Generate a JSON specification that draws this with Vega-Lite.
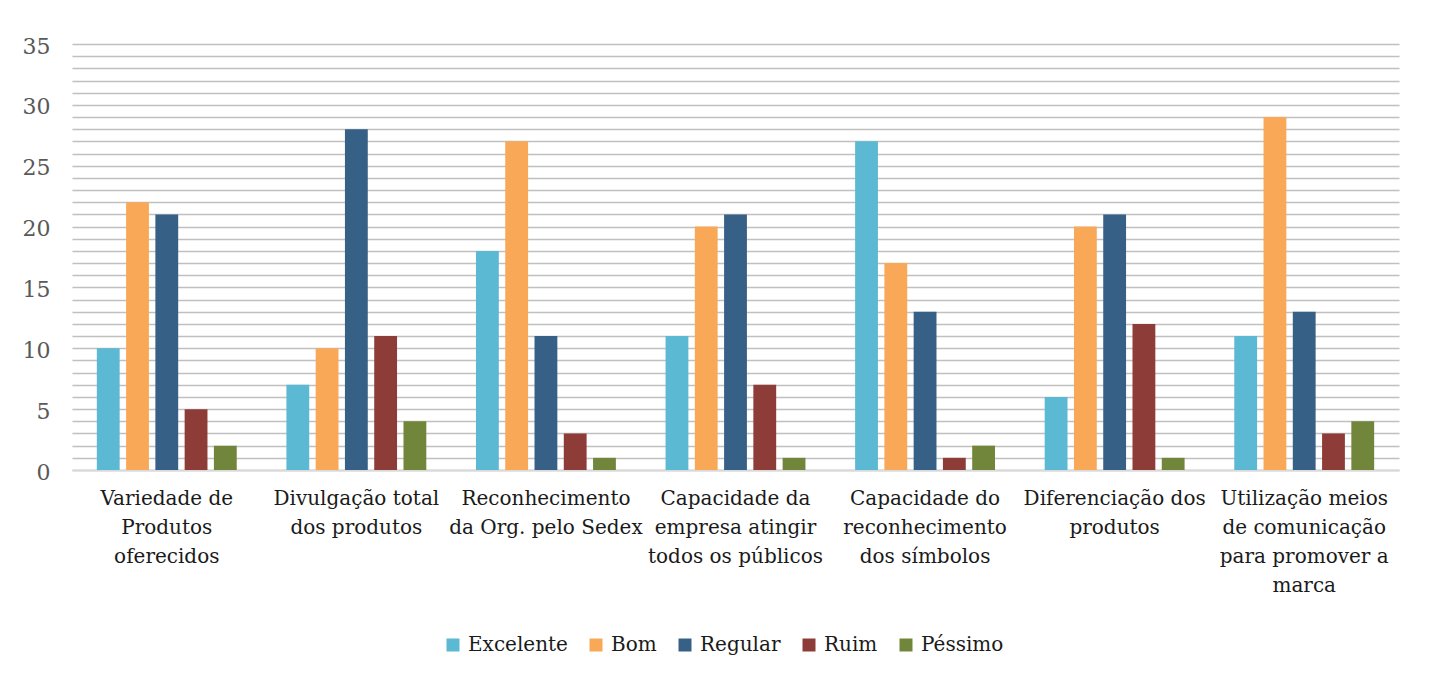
{
  "$schema": "https://vega.github.io/schema/vega-lite/v6.json",
  "width": 1327,
  "height": 426,
  "autosize": "none",
  "padding": {"left": 72, "top": 44, "right": 35, "bottom": 214},
  "background": "#ffffff",
  "config": {
    "view": {"stroke": null},
    "font": "DejaVu Serif"
  },
  "data": {
    "values": [
      {"item": "Variedade de Produtos oferecidos", "rating": "Excelente", "count": 10},
      {"item": "Variedade de Produtos oferecidos", "rating": "Bom", "count": 22},
      {"item": "Variedade de Produtos oferecidos", "rating": "Regular", "count": 21},
      {"item": "Variedade de Produtos oferecidos", "rating": "Ruim", "count": 5},
      {"item": "Variedade de Produtos oferecidos", "rating": "Péssimo", "count": 2},
      {"item": "Divulgação total dos produtos", "rating": "Excelente", "count": 7},
      {"item": "Divulgação total dos produtos", "rating": "Bom", "count": 10},
      {"item": "Divulgação total dos produtos", "rating": "Regular", "count": 28},
      {"item": "Divulgação total dos produtos", "rating": "Ruim", "count": 11},
      {"item": "Divulgação total dos produtos", "rating": "Péssimo", "count": 4},
      {"item": "Reconhecimento da Org. pelo Sedex", "rating": "Excelente", "count": 18},
      {"item": "Reconhecimento da Org. pelo Sedex", "rating": "Bom", "count": 27},
      {"item": "Reconhecimento da Org. pelo Sedex", "rating": "Regular", "count": 11},
      {"item": "Reconhecimento da Org. pelo Sedex", "rating": "Ruim", "count": 3},
      {"item": "Reconhecimento da Org. pelo Sedex", "rating": "Péssimo", "count": 1},
      {"item": "Capacidade da empresa atingir todos os públicos", "rating": "Excelente", "count": 11},
      {"item": "Capacidade da empresa atingir todos os públicos", "rating": "Bom", "count": 20},
      {"item": "Capacidade da empresa atingir todos os públicos", "rating": "Regular", "count": 21},
      {"item": "Capacidade da empresa atingir todos os públicos", "rating": "Ruim", "count": 7},
      {"item": "Capacidade da empresa atingir todos os públicos", "rating": "Péssimo", "count": 1},
      {"item": "Capacidade do reconhecimento dos símbolos", "rating": "Excelente", "count": 27},
      {"item": "Capacidade do reconhecimento dos símbolos", "rating": "Bom", "count": 17},
      {"item": "Capacidade do reconhecimento dos símbolos", "rating": "Regular", "count": 13},
      {"item": "Capacidade do reconhecimento dos símbolos", "rating": "Ruim", "count": 1},
      {"item": "Capacidade do reconhecimento dos símbolos", "rating": "Péssimo", "count": 2},
      {"item": "Diferenciação dos produtos", "rating": "Excelente", "count": 6},
      {"item": "Diferenciação dos produtos", "rating": "Bom", "count": 20},
      {"item": "Diferenciação dos produtos", "rating": "Regular", "count": 21},
      {"item": "Diferenciação dos produtos", "rating": "Ruim", "count": 12},
      {"item": "Diferenciação dos produtos", "rating": "Péssimo", "count": 1},
      {"item": "Utilização meios de comunicação para promover a marca", "rating": "Excelente", "count": 11},
      {"item": "Utilização meios de comunicação para promover a marca", "rating": "Bom", "count": 29},
      {"item": "Utilização meios de comunicação para promover a marca", "rating": "Regular", "count": 13},
      {"item": "Utilização meios de comunicação para promover a marca", "rating": "Ruim", "count": 3},
      {"item": "Utilização meios de comunicação para promover a marca", "rating": "Péssimo", "count": 4}
    ]
  },
  "mark": {"type": "bar"},
  "encoding": {
    "x": {
      "field": "item",
      "type": "nominal",
      "sort": null,
      "title": null,
      "scale": {"paddingInner": 0.262, "paddingOuter": 0.131},
      "axis": {
        "labelAngle": 0,
        "labelFontSize": 20,
        "labelColor": "#1a1a1a",
        "labelFont": "DejaVu Serif",
        "labelLineHeight": 29,
        "labelPadding": 18,
        "labelBaseline": "top",
        "labelLimit": 300,
        "ticks": false,
        "domainColor": "#d9d9d9",
        "domainWidth": 2,
        "labelExpr": "datum.value == 'Variedade de Produtos oferecidos' ? ['Variedade de', 'Produtos', 'oferecidos'] : datum.value == 'Divulgação total dos produtos' ? ['Divulgação total', 'dos produtos'] : datum.value == 'Reconhecimento da Org. pelo Sedex' ? ['Reconhecimento', 'da Org. pelo Sedex'] : datum.value == 'Capacidade da empresa atingir todos os públicos' ? ['Capacidade da', 'empresa atingir', 'todos os públicos'] : datum.value == 'Capacidade do reconhecimento dos símbolos' ? ['Capacidade do', 'reconhecimento', 'dos símbolos'] : datum.value == 'Diferenciação dos produtos' ? ['Diferenciação dos', 'produtos'] : ['Utilização meios', 'de comunicação', 'para promover a', 'marca']"
      }
    },
    "xOffset": {
      "field": "rating",
      "type": "nominal",
      "sort": ["Excelente", "Bom", "Regular", "Ruim", "Péssimo"],
      "scale": {"paddingInner": 0.22, "paddingOuter": 0}
    },
    "y": {
      "field": "count",
      "type": "quantitative",
      "title": null,
      "scale": {"domain": [0, 35], "nice": false},
      "axis": {
        "values": [0, 1, 2, 3, 4, 5, 6, 7, 8, 9, 10, 11, 12, 13, 14, 15, 16, 17, 18, 19, 20, 21, 22, 23, 24, 25, 26, 27, 28, 29, 30, 31, 32, 33, 34, 35],
        "labelExpr": "datum.value % 5 == 0 ? datum.label : ''",
        "labelFontSize": 22,
        "labelColor": "#595959",
        "labelFont": "DejaVu Serif",
        "labelPadding": 22,
        "labelOffset": 2,
        "ticks": false,
        "domain": false,
        "grid": true,
        "gridColor": "#c0c0c0",
        "gridWidth": 1.3
      }
    },
    "color": {
      "field": "rating",
      "type": "nominal",
      "sort": ["Excelente", "Bom", "Regular", "Ruim", "Péssimo"],
      "scale": {
        "domain": ["Excelente", "Bom", "Regular", "Ruim", "Péssimo"],
        "range": ["#5bb9d3", "#f9a857", "#376087", "#8e3c38", "#72863b"]
      },
      "legend": {
        "title": null,
        "orient": "none",
        "legendX": 371,
        "legendY": 591,
        "direction": "horizontal",
        "symbolType": "square",
        "symbolSize": 169,
        "symbolStrokeWidth": 0,
        "labelFontSize": 20,
        "labelFont": "DejaVu Serif",
        "labelColor": "#1a1a1a",
        "labelOffset": 5,
        "columnPadding": 18
      }
    }
  }
}
